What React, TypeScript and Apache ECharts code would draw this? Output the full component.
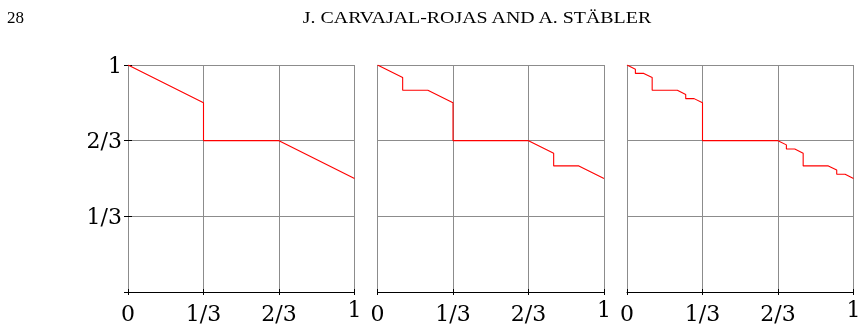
import { useEffect, useRef } from 'react';
import * as echarts from 'echarts';

const pageNumber = '28';
const runningHead = 'J. CARVAJAL-ROJAS AND A. STÄBLER';

const tickValues = [0, 1 / 3, 2 / 3, 1];
const xTickLabels = ['0', '1/3', '2/3', '1'];
const yTickLabels = ['', '1/3', '2/3', '1'];

const stage1X = [0, 1 / 3, 1 / 3, 2 / 3, 1];
const stage1Y = [1, 5 / 6, 2 / 3, 2 / 3, 1 / 2];

const stage2X = [0, 1 / 9, 1 / 9, 2 / 9, 1 / 3, 1 / 3, 2 / 3, 7 / 9, 7 / 9, 8 / 9, 1];
const stage2Y = [1, 17 / 18, 8 / 9, 8 / 9, 5 / 6, 2 / 3, 2 / 3, 11 / 18, 5 / 9, 5 / 9, 1 / 2];

const stage3X = [
  0, 1 / 27, 1 / 27, 2 / 27, 1 / 9, 1 / 9, 2 / 9, 7 / 27, 7 / 27, 8 / 27, 1 / 3,
  1 / 3, 2 / 3,
  19 / 27, 19 / 27, 20 / 27, 7 / 9, 7 / 9, 8 / 9, 25 / 27, 25 / 27, 26 / 27, 1,
];
const stage3Y = [
  1, 53 / 54, 26 / 27, 26 / 27, 17 / 18, 8 / 9, 8 / 9, 47 / 54, 23 / 27, 23 / 27, 5 / 6,
  2 / 3, 2 / 3,
  35 / 54, 17 / 27, 17 / 27, 11 / 18, 5 / 9, 5 / 9, 29 / 54, 14 / 27, 14 / 27, 1 / 2,
];

const stagesX = [stage1X, stage2X, stage3X];
const stagesY = [stage1Y, stage2Y, stage3Y];

const gridLefts = [128, 377.5, 627];
const gridTop = 65;
const gridWidth = 226.5;
const gridHeight = 227;

const GRAY = '#8c8c8c';
const TICK_FONT = 'DejaVu Serif';

function labelFor(v: number, labels: string[]) {
  const i = tickValues.findIndex((t) => Math.abs(t - v) < 1e-6);
  return i >= 0 ? labels[i] : '';
}

export default function App() {
  const ref = useRef<HTMLDivElement>(null);

  useEffect(() => {
    if (!ref.current) return;
    const chart = echarts.init(ref.current, undefined, { renderer: 'svg' });

    const grid: any[] = [];
    const xAxis: any[] = [];
    const yAxis: any[] = [];
    const series: any[] = [];

    for (let g = 0; g < 3; g++) {
      grid.push({ left: gridLefts[g], top: gridTop, width: gridWidth, height: gridHeight });
      const labelStyle = { fontFamily: TICK_FONT, fontSize: 22, color: '#000' };
      xAxis.push({
        type: 'value', gridIndex: g, min: 0, max: 1, interval: 1 / 3, position: 'bottom',
        axisLine: { show: true, lineStyle: { color: '#000', width: 1 } },
        axisTick: { show: true, inside: false, length: 3, lineStyle: { color: '#000', width: 1 } },
        axisLabel: {
          show: true, margin: 10, ...labelStyle, showMinLabel: true, showMaxLabel: true,
          formatter: (v: number) => (Math.abs(v - 1) < 1e-6 ? '' : labelFor(v, xTickLabels)),
        },
        splitLine: { show: true, lineStyle: { color: GRAY, width: 1 } },
      });
      xAxis.push({
        type: 'value', gridIndex: g, min: 0, max: 1, interval: 1 / 3, position: 'bottom',
        axisLine: { show: false },
        axisTick: { show: true, inside: true, length: 3, lineStyle: { color: '#000', width: 1 } },
        axisLabel: {
          show: true, margin: 6, ...labelStyle, showMinLabel: true, showMaxLabel: true,
          formatter: (v: number) => (Math.abs(v - 1) < 1e-6 ? labelFor(v, xTickLabels) : ''),
        },
        splitLine: { show: false },
      });
      const first = g === 0;
      yAxis.push({
        type: 'value', gridIndex: g, min: 0, max: 1, interval: 1 / 3, position: 'left',
        axisLine: { show: false },
        axisTick: { show: first, inside: false, length: 4, lineStyle: { color: '#000', width: 1 } },
        axisLabel: {
          show: first, margin: 6, ...labelStyle,
          formatter: (v: number) => labelFor(v, yTickLabels),
        },
        splitLine: { show: true, lineStyle: { color: GRAY, width: 1 } },
      });
      yAxis.push({
        type: 'value', gridIndex: g, min: 0, max: 1, interval: 1 / 3, position: 'left',
        show: first,
        axisLine: { show: false },
        axisTick: { show: first, inside: true, length: 4, lineStyle: { color: '#000', width: 1 } },
        axisLabel: { show: false },
        splitLine: { show: false },
      });
      series.push({
        type: 'line', xAxisIndex: 2 * g, yAxisIndex: 2 * g, showSymbol: false, symbol: 'none',
        lineStyle: { color: '#ff0000', width: 1.1 },
        data: stagesX[g].map((x, i) => [x, stagesY[g][i]]),
        z: 5,
      });
    }

    chart.setOption({
      animation: false,
      grid, xAxis, yAxis, series,
      graphic: [
        {
          type: 'text', x: 7, y: 17.5,
          style: { text: pageNumber, fontFamily: 'Liberation Serif', fontSize: 17, fill: '#000', textVerticalAlign: 'middle' },
        },
        {
          type: 'text', x: 477, y: 17.2, scaleX: 1.17,
          style: { text: runningHead, fontFamily: 'Liberation Serif', fontSize: 17, fill: '#000', textAlign: 'center', textVerticalAlign: 'middle' },
        },
      ],
    });
    return () => chart.dispose();
  }, []);

  return <div ref={ref} style={{ position: 'fixed', left: 0, top: 0, width: 864, height: 334 }} />;
}
